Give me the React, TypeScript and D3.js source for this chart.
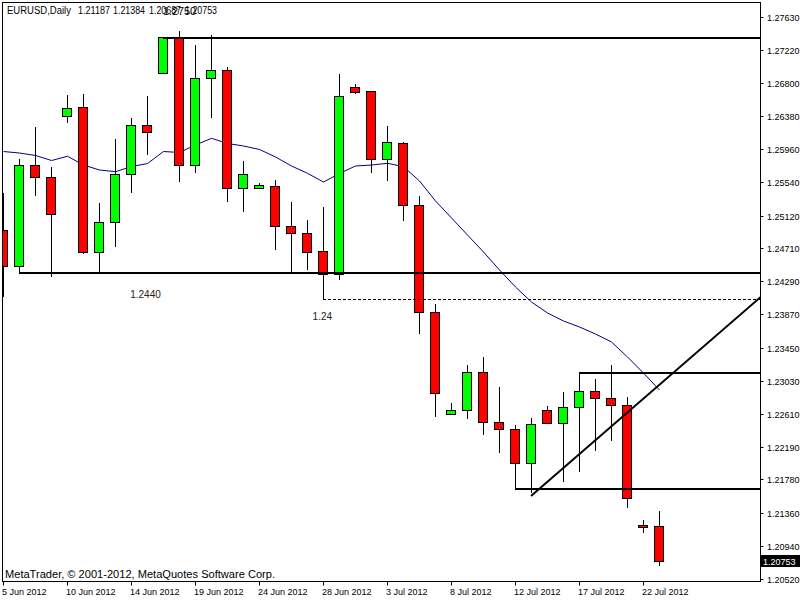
import React from "react";
import * as d3 from "d3";

// EURUSD daily bars, 5 Jun 2012 .. 23 Jul 2012 (Sunday bars included)
const dates = [
  "5 Jun 2012", "6 Jun 2012", "7 Jun 2012", "8 Jun 2012",
  "10 Jun 2012", "11 Jun 2012", "12 Jun 2012", "13 Jun 2012", "14 Jun 2012", "15 Jun 2012",
  "17 Jun 2012", "18 Jun 2012", "19 Jun 2012", "20 Jun 2012", "21 Jun 2012", "22 Jun 2012",
  "24 Jun 2012", "25 Jun 2012", "26 Jun 2012", "27 Jun 2012", "28 Jun 2012", "29 Jun 2012",
  "1 Jul 2012", "2 Jul 2012", "3 Jul 2012", "4 Jul 2012", "5 Jul 2012", "6 Jul 2012",
  "8 Jul 2012", "9 Jul 2012", "10 Jul 2012", "11 Jul 2012", "12 Jul 2012", "13 Jul 2012",
  "15 Jul 2012", "16 Jul 2012", "17 Jul 2012", "18 Jul 2012", "19 Jul 2012", "20 Jul 2012",
  "22 Jul 2012", "23 Jul 2012",
];
const opens = [
  1.24938, 1.24486, 1.25757, 1.25605, 1.26377, 1.26498, 1.24655, 1.25035, 1.25643, 1.26263,
  1.26921, 1.27372, 1.2576, 1.26858, 1.26959, 1.25465, 1.25465, 1.25491, 1.24984, 1.24896,
  1.24668, 1.24384, 1.26748, 1.26693, 1.25833, 1.26035, 1.2525, 1.23896, 1.22605, 1.22655,
  1.23136, 1.22503, 1.22415, 1.21984, 1.22655, 1.22491, 1.22693, 1.22896, 1.22807, 1.22719,
  1.21203, 1.21187,
];
const highs = [
  1.25406, 1.25836, 1.26241, 1.25735, 1.26646, 1.26659, 1.25283, 1.2609, 1.26352, 1.2663,
  1.2738, 1.27457, 1.27279, 1.27406, 1.27005, 1.25811, 1.25529, 1.2557, 1.25292, 1.25064,
  1.25233, 1.26912, 1.26786, 1.26693, 1.26254, 1.26055, 1.25368, 1.23997, 1.22744, 1.23229,
  1.23326, 1.22946, 1.22465, 1.22554, 1.2271, 1.22887, 1.23144, 1.23052, 1.23229, 1.2282,
  1.21267, 1.21384,
];
const lows = [
  1.24089, 1.2439, 1.25368, 1.24339, 1.26288, 1.2463, 1.2439, 1.24719, 1.25402, 1.25887,
  1.2691, 1.25549, 1.25663, 1.26352, 1.25296, 1.25169, 1.25453, 1.24684, 1.2439, 1.24431,
  1.2406, 1.24305, 1.26663, 1.25663, 1.25562, 1.25055, 1.23617, 1.22574, 1.22605, 1.22541,
  1.22339, 1.22111, 1.21659, 1.21605, 1.22491, 1.21744, 1.21878, 1.22144, 1.2227, 1.21422,
  1.21106, 1.20687,
];
const closes = [
  1.24486, 1.25757, 1.25605, 1.25136, 1.26478, 1.24655, 1.25035, 1.25643, 1.26263, 1.26174,
  1.27377, 1.2576, 1.26858, 1.26959, 1.25465, 1.25643, 1.25503, 1.24984, 1.24896, 1.24663,
  1.24384, 1.26634, 1.26688, 1.25833, 1.26048, 1.2525, 1.23896, 1.22871, 1.22655, 1.23136,
  1.22503, 1.22415, 1.21984, 1.22478, 1.22491, 1.22693, 1.22896, 1.22807, 1.22719, 1.21541,
  1.21174, 1.20753,
];
// moving average as drawn on the chart
const maValues = [
  1.25931, 1.25912, 1.25881, 1.25817, 1.25871, 1.2576, 1.25697, 1.25676, 1.25741, 1.25779,
  1.25931, 1.25919, 1.26014, 1.26098, 1.26033, 1.26001, 1.25957, 1.25862, 1.25748, 1.25655,
  1.25545, 1.25653, 1.25748, 1.2576, 1.25782, 1.25739, 1.25558, 1.25305, 1.2509, 1.24874,
  1.24659, 1.24431, 1.24216, 1.24026, 1.23887, 1.23786, 1.2371, 1.23621, 1.2352, 1.2333,
  1.23127, 1.22912,
];

const priceTicks = [
  1.2763, 1.2722, 1.268, 1.2638, 1.2596, 1.2554, 1.2512, 1.2471, 1.2429,
  1.2387, 1.2345, 1.2303, 1.2261, 1.2219, 1.2178, 1.2136, 1.2094, 1.2052,
];
const dateTicks = [0, 4, 8, 12, 16, 20, 24, 28, 32, 36, 40];

// horizontal levels: start bar, price, dashed
const levelStart = [10, 1, 20, 36, 32];
const levelPrice = [1.27364, 1.2439, 1.2406, 1.23131, 1.21659];
const levelDashed = [false, false, true, false, false];

// trend line anchors (bar index, price), extended to the right
const trendBars = [33, 39];
const trendPrices = [1.2157, 1.22623];

// text objects
const noteText = ["1.2440", "1.24"];
const noteBar = [7.95, 19.35];
const notePrice = [1.24077, 1.23798];

const lastPrice = 1.20753;
const headerParts = ["EURUSD,Daily", "1.21187", "1.21384", "1.20687", "1.20753"];
const headerX = [7, 78, 113, 149, 185];
const headerW = [64, 32, 32, 32, 32];

export default function App() {
  const left = 2.5, right = 760.5, top = 2.5, bottom = 581.5;
  const x = d3.scaleLinear().domain([0, 41]).range([3, 659]);
  const y = d3.scaleLinear().domain([1.2052, 1.2763]).range([579, 17.3]);
  const py = (v: number) => Math.round(y(v));
  const font = "Tahoma, 'Liberation Sans', Arial, sans-serif";

  const ma = d3
    .line<number>()
    .x((_, i) => x(i) + 0.5)
    .y((d) => y(d));

  const slope = (trendPrices[1] - trendPrices[0]) / (trendBars[1] - trendBars[0]);
  const rightBar = x.invert(right);
  const trendEnd = trendPrices[0] + slope * (rightBar - trendBars[0]);

  return (
    <svg
      width={800}
      height={600}
      style={{ position: "absolute", left: 0, top: 0, background: "#fff" }}
      fontFamily={font}
    >
      <defs>
        <clipPath id="plot">
          <rect x={left} y={top} width={right - left} height={bottom - top} />
        </clipPath>
      </defs>
      <rect x={0} y={0} width={800} height={600} fill="#fff" />

      <g clipPath="url(#plot)">
        {/* moving average */}
        <path d={ma(maValues) || ""} fill="none" stroke="#000080" strokeWidth={1} />

        {/* candles */}
        {dates.map((d, i) => {
          const cx = x(i);
          const o = opens[i], c = closes[i];
          const t = py(Math.max(o, c));
          const b = py(Math.min(o, c));
          return (
            <g key={d}>
              <line
                x1={cx + 0.5}
                x2={cx + 0.5}
                y1={py(highs[i])}
                y2={py(lows[i])}
                stroke="#000"
                strokeWidth={1}
              />
              <rect
                x={cx - 4.5}
                y={t + 0.5}
                width={9}
                height={Math.max(b - t, 1)}
                fill={c >= o ? "#00ff00" : "#ff0000"}
                stroke="#000"
                strokeWidth={1}
              />
            </g>
          );
        })}

        {/* levels */}
        {levelPrice.map((p, i) => (
          <line
            key={"lv" + i}
            x1={x(levelStart[i])}
            x2={right}
            y1={py(p) + (levelDashed[i] ? 0.5 : 0)}
            y2={py(p) + (levelDashed[i] ? 0.5 : 0)}
            stroke="#000"
            strokeWidth={levelDashed[i] ? 1 : 2}
            strokeDasharray={levelDashed[i] ? "3,2" : undefined}
          />
        ))}

        {/* trend line */}
        <line
          x1={x(trendBars[0])}
          y1={y(trendPrices[0])}
          x2={right}
          y2={y(trendEnd)}
          stroke="#000"
          strokeWidth={2}
        />

        {noteText.map((t, i) => (
          <text key={t} x={x(noteBar[i])} y={y(notePrice[i])} fontSize={10} fill="#222">
            {t}
          </text>
        ))}
      </g>

      {/* frame */}
      <rect x={left} y={top} width={right - left} height={bottom - top} fill="none" stroke="#000" />

      {/* header */}
      {headerParts.map((t, i) => (
        <text
          key={"h" + i}
          x={headerX[i]}
          y={14}
          fontSize={10}
          fill="#000"
          textLength={headerW[i]}
          lengthAdjust="spacingAndGlyphs"
        >
          {t}
        </text>
      ))}
      <text x={x(10)} y={15} fontSize={10} fill="#000" textLength={33} lengthAdjust="spacingAndGlyphs">
        1.2750
      </text>

      <text x={5} y={578} fontSize={10} fill="#000" textLength={270} lengthAdjust="spacingAndGlyphs">
        MetaTrader, © 2001-2012, MetaQuotes Software Corp.
      </text>

      {/* price axis */}
      {priceTicks.map((v) => (
        <g key={v}>
          <line x1={right} x2={right + 3} y1={py(v) + 0.5} y2={py(v) + 0.5} stroke="#000" />
          <text x={767} y={py(v) + 3.5} fontSize={9} fill="#000">
            {v.toFixed(5)}
          </text>
        </g>
      ))}
      <rect x={761} y={py(lastPrice) - 6} width={39} height={12} fill="#000" />
      <text x={763} y={py(lastPrice) + 3.5} fontSize={9} fill="#fff">
        {lastPrice.toFixed(5)}
      </text>

      {/* date axis */}
      {dateTicks.map((i) => (
        <g key={"dt" + i}>
          <line x1={x(i) + 0.5} x2={x(i) + 0.5} y1={bottom} y2={bottom + 4} stroke="#000" />
          <text x={x(i) - 1} y={595} fontSize={9} fill="#000">
            {dates[i]}
          </text>
        </g>
      ))}
    </svg>
  );
}
